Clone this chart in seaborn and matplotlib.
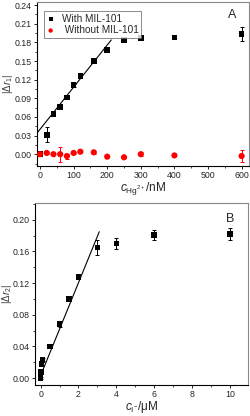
import numpy as np
import pandas as pd
import seaborn as sns
import matplotlib.pyplot as plt
from matplotlib.ticker import MultipleLocator, FormatStrFormatter

# panel A data
hg_conc = [0, 20, 40, 60, 80, 100, 120, 160, 200, 250, 300, 400, 600]
dr1_with = [0.000, 0.031, 0.065, 0.076, 0.091, 0.111, 0.126, 0.150, 0.168, 0.184, 0.187, 0.188, 0.194]
err_with = [0.001, 0.012, 0.002, 0.002, 0.002, 0.002, 0.004, 0.002, 0.002, 0.002, 0.002, 0.002, 0.011]
dr1_without = [0.000, 0.002, 0.000, 0.000, -0.003, 0.002, 0.004, 0.003, -0.004, -0.005, 0.000, -0.002, -0.003]
err_without = [0.001, 0.001, 0.002, 0.012, 0.004, 0.001, 0.002, 0.002, 0.001, 0.001, 0.003, 0.001, 0.009]
fitA_x = [-9, 212]
fitA_y = [0.034, 0.184]

# panel B data
i_conc = [0, 0.02, 0.05, 0.1, 0.5, 1, 1.5, 2, 3, 4, 6, 10]
dr2 = [0.000, 0.008, 0.018, 0.023, 0.040, 0.068, 0.100, 0.128, 0.165, 0.170, 0.181, 0.182]
err_b = [0.001, 0.001, 0.002, 0.002, 0.002, 0.004, 0.003, 0.003, 0.009, 0.007, 0.006, 0.008]
fitB_x = [0.05, 3.1]
fitB_y = [0.0063, 0.185]

sns.set_style("ticks")
plt.rcParams['font.family'] = ['Liberation Sans', 'DejaVu Sans']
plt.rcParams['mathtext.fontset'] = 'custom'
plt.rcParams['mathtext.it'] = 'Liberation Sans:italic'
plt.rcParams['mathtext.rm'] = 'Liberation Sans'

fig = plt.figure(figsize=(2.5, 4.16), dpi=100)
axA = fig.add_axes([0.148, 0.601, 0.848, 0.394])
axB = fig.add_axes([0.14, 0.075, 0.851, 0.436])

dfA = pd.DataFrame({"x": hg_conc, "with": dr1_with, "without": dr1_without})
axA.errorbar(hg_conc, dr1_without, yerr=err_without, fmt='none', ecolor='red', elinewidth=0.7, capsize=1.5, capthick=0.7)
axA.errorbar(hg_conc, dr1_with, yerr=err_with, fmt='none', ecolor='black', elinewidth=0.7, capsize=1.5, capthick=0.7)
sns.scatterplot(data=dfA, x="x", y="with", marker='s', color='black', s=16, edgecolor='none', ax=axA, label='With MIL-101', zorder=3)
sns.scatterplot(data=dfA, x="x", y="without", marker='o', color='red', s=20, edgecolor='none', ax=axA, label=' Without MIL-101', zorder=4)
sns.lineplot(x=fitA_x, y=fitA_y, color='black', lw=0.8, ax=axA)
axA.set_xlim(-9, 622)
axA.set_ylim(-0.019, 0.245)
axA.xaxis.set_major_locator(MultipleLocator(100))
axA.xaxis.set_minor_locator(MultipleLocator(50))
axA.yaxis.set_major_locator(MultipleLocator(0.03))
axA.yaxis.set_minor_locator(MultipleLocator(0.015))
axA.yaxis.set_major_formatter(FormatStrFormatter('%.2f'))
axA.set_xlabel(r'$c_{\mathrm{Hg}^{2+}}$/nM', fontsize=8.5, labelpad=0)
axA.set_ylabel(r'$|\Delta r_1|$', fontsize=7, color='#333333')
axA.yaxis.set_label_coords(-0.105, 0.5)
axA.text(0.9, 0.9, 'A', transform=axA.transAxes, fontsize=9)
leg = axA.legend(loc='upper left', fontsize=7.2, frameon=True, fancybox=False, edgecolor='#555555',
                 handlelength=0.8, handletextpad=0.7, borderpad=0.25, labelspacing=0.15,
                 markerscale=0.7, bbox_to_anchor=(0.01, 0.975))
leg.get_frame().set_linewidth(0.6)

dfB = pd.DataFrame({"x": i_conc, "y": dr2})
axB.errorbar(i_conc, dr2, yerr=err_b, fmt='none', ecolor='black', elinewidth=0.7, capsize=1.5, capthick=0.7)
sns.scatterplot(data=dfB, x="x", y="y", marker='s', color='black', s=16, edgecolor='none', ax=axB, zorder=3)
sns.lineplot(x=fitB_x, y=fitB_y, color='black', lw=0.8, ax=axB)
axB.set_xlim(-0.3, 10.95)
axB.set_ylim(-0.0085, 0.2207)
axB.xaxis.set_major_locator(MultipleLocator(2))
axB.xaxis.set_minor_locator(MultipleLocator(1))
axB.yaxis.set_major_locator(MultipleLocator(0.04))
axB.yaxis.set_minor_locator(MultipleLocator(0.02))
axB.yaxis.set_major_formatter(FormatStrFormatter('%.2f'))
axB.set_xlabel(r'$c_{\mathrm{I}^{-}}$/$\mathrm{\mu}$M', fontsize=8.5, labelpad=0)
axB.set_ylabel(r'$|\Delta r_2|$', fontsize=7, color='#333333')
axB.yaxis.set_label_coords(-0.1, 0.5)
axB.text(0.9, 0.9, 'B', transform=axB.transAxes, fontsize=9)

for ax in (axA, axB):
    ax.tick_params(axis='both', which='major', labelsize=6.3, length=2.5, width=0.7, direction='out', pad=1.2)
    ax.tick_params(axis='both', which='minor', length=1.5, width=0.6, direction='out')
    for side in ('left', 'bottom'):
        ax.spines[side].set_color('black')
        ax.spines[side].set_linewidth(0.8)
    for side in ('top', 'right'):
        ax.spines[side].set_color('#888888')
        ax.spines[side].set_linewidth(0.8)

fig.savefig('out.png', dpi=100)
